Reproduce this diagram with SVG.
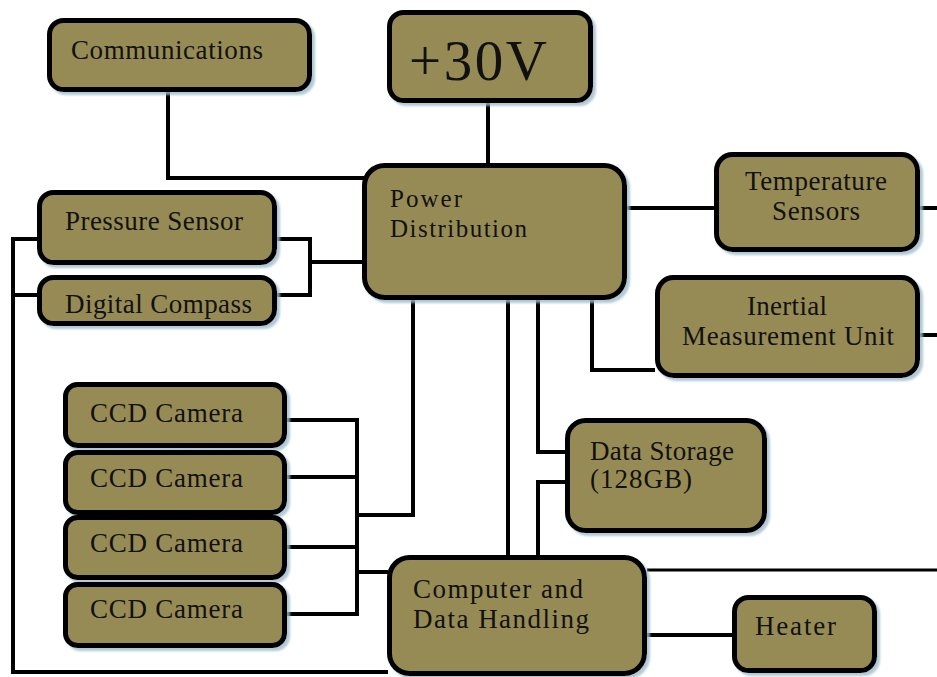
<svg xmlns="http://www.w3.org/2000/svg" width="937" height="677" viewBox="0 0 937 677">
<defs>
<filter id="sh" x="-10%" y="-10%" width="120%" height="130%">
<feDropShadow dx="3" dy="3" stdDeviation="1.2" flood-color="#9dbccb" flood-opacity="0.8"/>
</filter>
</defs>
<style>
.box{fill:#978b55;stroke:#000;stroke-width:5;filter:url(#sh)}
.t{font-family:"Liberation Serif","Times New Roman",serif;font-size:27px;fill:#111}
.c{fill:none;stroke:#000;stroke-width:4}
.thin{stroke-width:3}
</style>
<rect width="937" height="677" fill="#fff"/>
<g id="connectors">
<path class="c" d="M168 92V178H364"/>
<path class="c" d="M488 102V163"/>
<path class="c" d="M39 239H13V672H388"/>
<path class="c" d="M13 295H39"/>
<path class="c" d="M277 239H310V295H277"/>
<path class="c" d="M310 262H362"/>
<path class="c" d="M627 208H714"/>
<path class="c" d="M920 208H937"/>
<path class="c" d="M920 335H937"/>
<path class="c" d="M592 300V370H655"/>
<path class="c" d="M538 300V452H565"/>
<path class="c" d="M538 555V482H565"/>
<path class="c" d="M508 300V555"/>
<path class="c" d="M413 300V515H357"/>
<path class="c" d="M287 420H357V614H287"/>
<path class="c" d="M287 477H357"/>
<path class="c" d="M287 547H357"/>
<path class="c" d="M357 572H388"/>
<path class="c thin" d="M647 570H937"/>
<path class="c" d="M647 635H732"/>
</g>
<g id="communications">
<rect class="box" x="49.5" y="20.5" width="260" height="69" rx="14"/>
<text class="t" x="71" y="59" textLength="192" lengthAdjust="spacing">Communications</text>
</g>
<g id="v30">
<rect class="box" x="389.5" y="12.5" width="201" height="88" rx="14"/>
<text class="t" x="409" y="80" style="font-size:57px" textLength="138" lengthAdjust="spacing">+30V</text>
</g>
<g id="power">
<rect class="box" x="364.5" y="165.5" width="260" height="132" rx="20"/>
<text class="t" x="390" y="207" style="font-size:25px" textLength="72" lengthAdjust="spacing">Power</text>
<text class="t" x="390" y="237" style="font-size:25px" textLength="137" lengthAdjust="spacing">Distribution</text>
</g>
<g id="temperature">
<rect class="box" x="716.5" y="154.5" width="201" height="95" rx="16"/>
<text class="t" x="745" y="190" textLength="142" lengthAdjust="spacing">Temperature</text>
<text class="t" x="772" y="220" textLength="88" lengthAdjust="spacing">Sensors</text>
</g>
<g id="imu">
<rect class="box" x="657.5" y="277.5" width="260" height="98" rx="16"/>
<text class="t" x="747" y="315" textLength="80" lengthAdjust="spacing">Inertial</text>
<text class="t" x="682" y="345" textLength="212" lengthAdjust="spacing">Measurement Unit</text>
</g>
<g id="pressure">
<rect class="box" x="39.5" y="192.5" width="235" height="70" rx="14"/>
<text class="t" x="65" y="230" textLength="178" lengthAdjust="spacing">Pressure Sensor</text>
</g>
<g id="compass">
<rect class="box" x="39.5" y="277.5" width="235" height="46" rx="14"/>
<text class="t" x="65" y="313" textLength="187" lengthAdjust="spacing">Digital Compass</text>
</g>
<g id="ccd1">
<rect class="box" x="65.5" y="384.5" width="219" height="61" rx="12"/>
<text class="t" x="90" y="422" textLength="153" lengthAdjust="spacing">CCD Camera</text>
</g>
<g id="ccd2">
<rect class="box" x="65.5" y="452.5" width="219" height="60" rx="12"/>
<text class="t" x="90" y="487" textLength="153" lengthAdjust="spacing">CCD Camera</text>
</g>
<g id="ccd3">
<rect class="box" x="65.5" y="517.5" width="219" height="60" rx="12"/>
<text class="t" x="90" y="552" textLength="153" lengthAdjust="spacing">CCD Camera</text>
</g>
<g id="ccd4">
<rect class="box" x="65.5" y="584.5" width="219" height="61" rx="12"/>
<text class="t" x="90" y="618" textLength="153" lengthAdjust="spacing">CCD Camera</text>
</g>
<g id="storage">
<rect class="box" x="567.5" y="420.5" width="197" height="110" rx="18"/>
<text class="t" x="590" y="460" textLength="144" lengthAdjust="spacing">Data Storage</text>
<text class="t" x="590" y="488" textLength="102" lengthAdjust="spacing">(128GB)</text>
</g>
<g id="computer">
<rect class="box" x="389.5" y="557.5" width="255" height="116" rx="20"/>
<text class="t" x="413" y="598" textLength="170" lengthAdjust="spacing">Computer and</text>
<text class="t" x="413" y="628" textLength="176" lengthAdjust="spacing">Data Handling</text>
</g>
<g id="heater">
<rect class="box" x="734.5" y="597.5" width="140" height="73" rx="14"/>
<text class="t" x="755" y="635" textLength="81" lengthAdjust="spacing">Heater</text>
</g>
</svg>
